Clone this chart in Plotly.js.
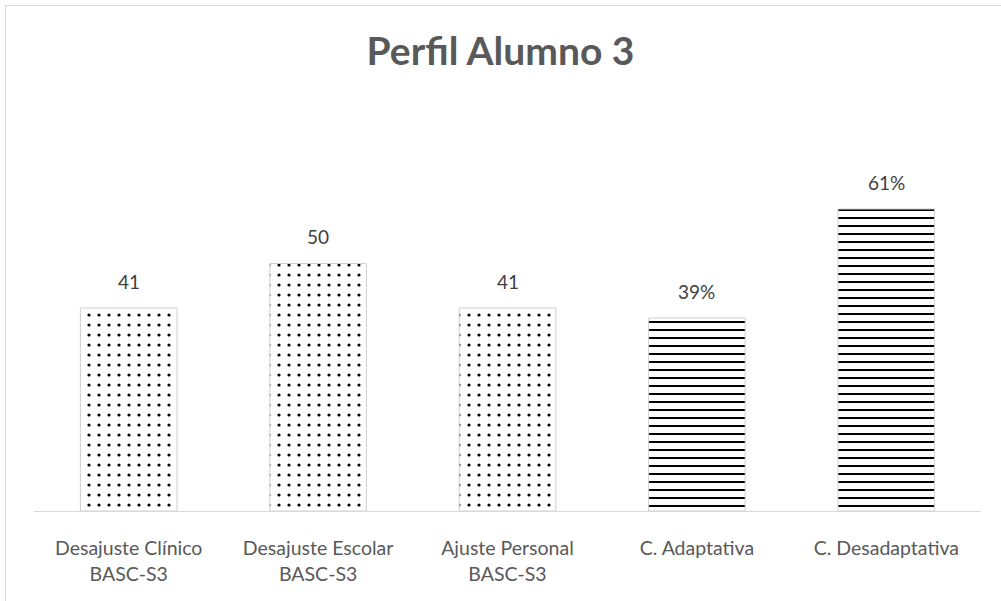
<!DOCTYPE html>
<html>
<head>
<meta charset="utf-8">
<script src="https://cdn.plot.ly/plotly-3.0.1.min.js"></script>
<style>
html,body{margin:0;padding:0;background:#fff;}
#frame{position:absolute;left:5px;top:5px;width:1000px;height:600px;border-left:1px solid #d9d9d9;border-top:1px solid #d9d9d9;box-sizing:border-box;}
#chart{position:absolute;left:0;top:0;width:1001px;height:601px;}
</style>
</head>
<body>
<div id="frame"></div>
<div id="chart"></div>
<script>
const categories = ["Desajuste Clínico<br>BASC-S3", "Desajuste Escolar<br>BASC-S3", "Ajuste Personal<br>BASC-S3", "C. Adaptativa", "C. Desadaptativa"];
const values = [41, 50, 41, 39, 61];
const labels = ["41", "50", "41", "39%", "61%"];
const patterns = [".", ".", ".", "-", "-"];
const patternSizes = [10, 10, 10, 8, 8];
const patternSolidity = [0.08, 0.08, 0.08, 0.25, 0.25];

const FONT = "Lato, 'Open Sans', sans-serif";

const trace = {
  type: "bar",
  x: categories,
  y: values,
  marker: {
    color: "#ffffff",
    line: {color: "#cfcfcf", width: 1},
    pattern: {
      shape: patterns,
      fgcolor: "#000000",
      fgopacity: 1,
      bgcolor: "#ffffff",
      size: patternSizes,
      solidity: patternSolidity,
      fillmode: "overlay"
    }
  },
  hoverinfo: "none"
};

const annotations = categories.map((c, i) => ({
  x: c, y: values[i], text: labels[i], showarrow: false,
  yanchor: "bottom", yshift: 13,
  font: {family: FONT, size: 19, color: "#404040"}
}));

const layout = {
  width: 1001, height: 601,
  paper_bgcolor: "rgba(0,0,0,0)",
  plot_bgcolor: "rgba(0,0,0,0)",
  margin: {l: 34, r: 20, t: 110, b: 90},
  title: {
    text: "<b>Perfil Alumno 3</b>",
    font: {family: FONT, size: 39, color: "#595959"},
    x: 0.5, xanchor: "center", y: 0.915, yanchor: "middle"
  },
  bargap: 0.49,
  showlegend: false,
  xaxis: {
    type: "category",
    showline: true, linecolor: "#d9d9d9", linewidth: 1,
    ticks: "", showgrid: false,
    tickfont: {family: FONT, size: 19.5, color: "#595959"},
    ticklabelstandoff: 20
  },
  yaxis: {
    range: [0, 81], visible: false, showgrid: false, zeroline: false
  },
  annotations: annotations
};

Plotly.newPlot("chart", [trace], layout, {displayModeBar: false, staticPlot: true});
</script>
</body>
</html>
